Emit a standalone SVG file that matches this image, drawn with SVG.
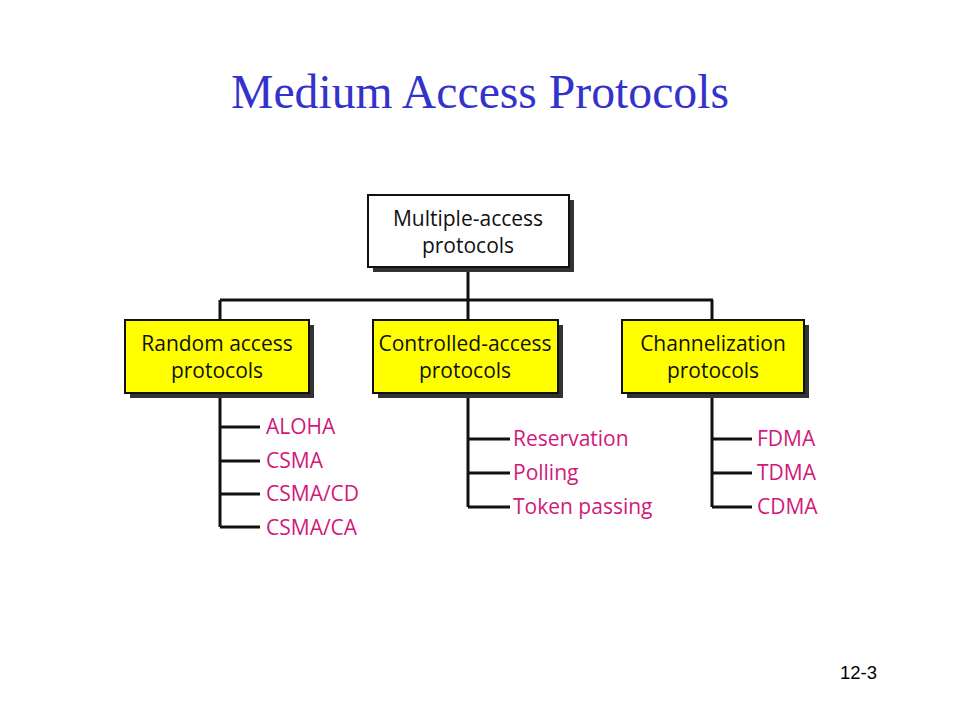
<svg xmlns="http://www.w3.org/2000/svg" width="960" height="720" viewBox="0 0 960 720">
<style>
.title{font-family:"Liberation Serif",serif;font-size:47.7px;fill:#3333CC}
.lbl{font-family:"Open Sans","Noto Sans",sans-serif;font-size:21px;fill:#111;text-anchor:middle}
.leaf{font-family:"Open Sans","Noto Sans",sans-serif;font-size:21px;fill:#D0197A}
.shadow{fill:#333}
.box{stroke:#111;stroke-width:2}
.ln{stroke:#111;stroke-width:3;fill:none}
.pg{font-family:"Liberation Sans",sans-serif;font-size:18.5px;fill:#000}
</style>
<rect width="960" height="720" fill="#fff"/>
<text class="title" x="480" y="108" text-anchor="middle">Medium Access Protocols</text>
<g id="connectors">
<path class="ln" d="M468 267V300M220 300H713M220 300V320M468 300V320M712 300V320"/>
<path class="ln" d="M220 393V527M220 427H260M220 461H260M220 494H260M220 527H260"/>
<path class="ln" d="M468 393V507M468 439H510M468 473H510M468 507H510"/>
<path class="ln" d="M712 393V507M712 439H752M712 473H752M712 507H752"/>
</g>
<g id="root">
<rect class="shadow" x="373" y="200" width="201" height="72"/>
<rect class="box" x="368" y="195" width="201" height="72" fill="#fff"/>
<text class="lbl" x="468" y="226">Multiple-access</text>
<text class="lbl" x="468" y="253">protocols</text>
</g>
<g id="random">
<rect class="shadow" x="130" y="325" width="184" height="73"/>
<rect class="box" x="125" y="320" width="184" height="73" fill="#FFFF00"/>
<text class="lbl" x="217" y="351">Random access</text>
<text class="lbl" x="217" y="378">protocols</text>
</g>
<g id="controlled">
<rect class="shadow" x="378" y="325" width="185" height="73"/>
<rect class="box" x="373" y="320" width="185" height="73" fill="#FFFF00"/>
<text class="lbl" x="465" y="351">Controlled-access</text>
<text class="lbl" x="465" y="378">protocols</text>
</g>
<g id="channel">
<rect class="shadow" x="627" y="325" width="182" height="73"/>
<rect class="box" x="622" y="320" width="182" height="73" fill="#FFFF00"/>
<text class="lbl" x="713" y="351">Channelization</text>
<text class="lbl" x="713" y="378">protocols</text>
</g>
<g id="random-leaves">
<text class="leaf" x="266" y="434">ALOHA</text>
<text class="leaf" x="266" y="468">CSMA</text>
<text class="leaf" x="266" y="501">CSMA/CD</text>
<text class="leaf" x="266" y="535">CSMA/CA</text>
</g>
<g id="controlled-leaves">
<text class="leaf" x="513" y="446">Reservation</text>
<text class="leaf" x="513" y="480">Polling</text>
<text class="leaf" x="513" y="514">Token passing</text>
</g>
<g id="channel-leaves">
<text class="leaf" x="757" y="446">FDMA</text>
<text class="leaf" x="757" y="480">TDMA</text>
<text class="leaf" x="757" y="514">CDMA</text>
</g>
<text class="pg" x="840" y="679">12-3</text>
</svg>
